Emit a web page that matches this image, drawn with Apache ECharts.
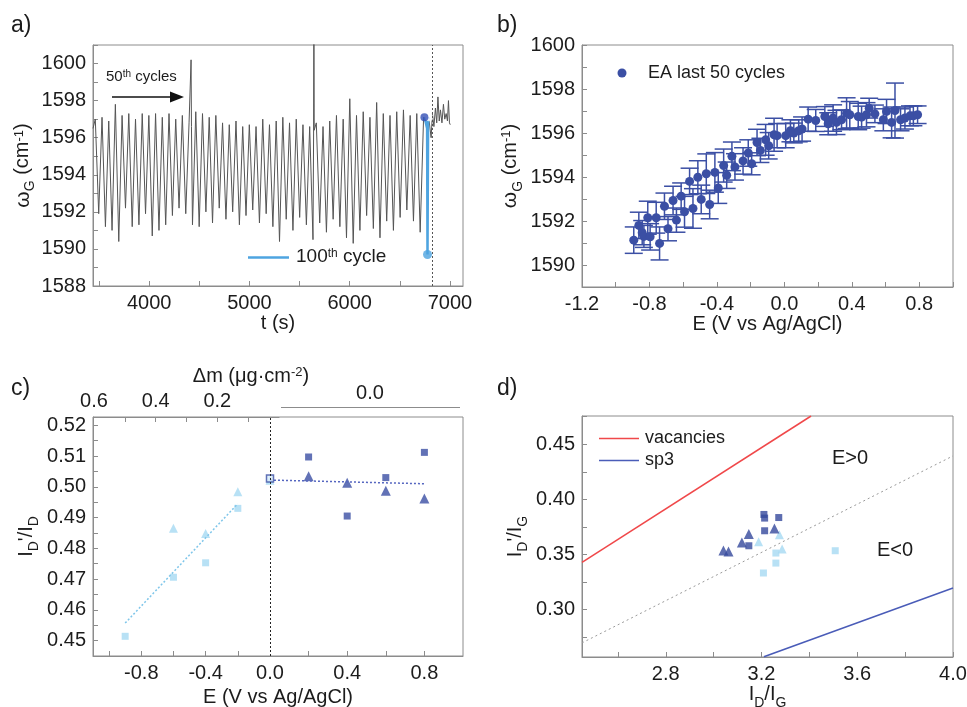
<!DOCTYPE html>
<html><head><meta charset="utf-8">
<script src="https://cdn.jsdelivr.net/npm/echarts@6/dist/echarts.min.js"></script>
<style>html,body{margin:0;padding:0;background:#fff}#c{width:967px;height:707px}</style>
</head><body><div id="c"></div>
<script>
// ---------- Panel a: omega_G vs time ----------
const aPeakT = [3463,3530,3597,3663,3730,3797,3864,3931,3997,4064,4131,4198,4265,4331,4398,4465,4532,4599,4665,4732,4799,4866,4933,4999,5066,5133,5200,5267,5333,5400,5467,5534,5601,5667,5734,5801,5868,5935,6001,6068,6135,6202,6269,6335,6402,6469,6536,6603,6669,6737];
const aPeakW = [1597.0,1597.1,1596.9,1597.8,1597.2,1597.3,1597.0,1597.3,1597.2,1597.3,1597.1,1597.3,1597.0,1597.2,1596.8,1597.4,1597.3,1597.1,1597.2,1596.8,1596.7,1596.9,1596.6,1596.7,1596.6,1597.0,1596.7,1596.9,1597.1,1596.8,1597.0,1596.7,1596.6,1596.8,1596.6,1596.9,1597.2,1597.0,1598.1,1597.2,1597.4,1597.1,1597.9,1597.3,1597.2,1597.4,1597.5,1597.2,1597.3,1597.1];
const aTroughT = [3497,3564,3630,3697,3764,3831,3898,3964,4031,4098,4165,4232,4298,4365,4432,4499,4566,4632,4699,4766,4833,4900,4966,5033,5100,5167,5234,5300,5367,5434,5501,5568,5634,5701,5768,5835,5902,5968,6035,6102,6169,6236,6302,6369,6436,6503,6570,6636,6703];
const aTroughW = [1591.9,1591.2,1591.0,1590.4,1592.2,1591.2,1591.3,1591.9,1590.7,1591.0,1591.3,1591.8,1592.2,1591.9,1591.3,1591.2,1592.0,1591.4,1592.2,1591.6,1592.0,1591.3,1591.8,1592.1,1591.4,1591.9,1591.2,1590.4,1591.6,1591.0,1591.7,1591.3,1590.5,1591.4,1590.9,1591.6,1591.2,1590.6,1590.3,1591.0,1591.8,1591.1,1590.6,1591.5,1591.0,1591.7,1592.1,1591.5,1590.9];
const aExtra = [[3440,1596.5],[4413,1596.7],[4418,1600.2],[4422,1596.6],[5640,1596.2],[5643,1603.5],[5646,1596.4],[6760,1596.9],[6790,1597.0],[6800,1596.9],[6812,1596.0],[6825,1597.3],[6840,1596.6],[6855,1597.6],[6868,1596.8],[6880,1598.2],[6893,1596.9],[6905,1597.5],[6920,1596.8],[6935,1597.8],[6948,1597.0],[6962,1597.3],[6975,1596.9],[6985,1598.0],[6995,1596.8],[7003,1596.7]];
const a100 = [[6747,1597.1],[6772,1596.5],[6776,1589.7],[6782,1596.9],[6790,1597.1]];
const a100Start = [[6745,1597.1]];
const a100Low = [[6776,1589.7]];
const a100End = [[6791,1597.1]];
const aDashT = 6820;
const aXTicks = [3500,4000,4500,5000,5500,6000,6500,7000];
const aXLabels = [4000,5000,6000,7000];

// ---------- Panel b: EA last 50 cycles ----------
const bE = [-0.893,-0.863,-0.843,-0.833,-0.81,-0.796,-0.76,-0.74,-0.711,-0.69,-0.66,-0.64,-0.612,-0.592,-0.562,-0.542,-0.513,-0.493,-0.463,-0.443,-0.412,-0.392,-0.36,-0.342,-0.311,-0.293,-0.245,-0.214,-0.194,-0.162,-0.142,-0.111,-0.093,-0.061,-0.043,0.008,0.036,0.056,0.085,0.105,0.141,0.186,0.24,0.26,0.289,0.309,0.339,0.369,0.388,0.438,0.458,0.487,0.503,0.537,0.587,0.606,0.636,0.656,0.689,0.715,0.745,0.765,0.79];
const bW = [1591.13,1591.8,1591.47,1591.3,1592.15,1591.28,1592.15,1590.98,1592.67,1591.65,1592.93,1592.04,1593.13,1592.42,1593.8,1592.57,1593.99,1592.98,1594.15,1592.75,1594.21,1593.5,1594.52,1594.08,1594.94,1594.46,1594.73,1595.09,1594.6,1595.57,1595.21,1595.69,1595.42,1595.92,1595.88,1595.88,1596.1,1596.0,1596.1,1596.18,1596.63,1596.57,1596.75,1596.42,1596.68,1596.48,1596.6,1596.9,1596.83,1596.75,1596.72,1596.83,1597.13,1596.87,1596.6,1596.98,1596.48,1597.02,1596.6,1596.68,1596.78,1596.78,1596.83];
const bErr = [0.6,0.6,0.55,0.5,0.75,0.6,0.7,0.75,0.6,0.55,0.65,0.55,0.6,0.7,0.6,0.9,0.75,0.65,0.9,0.65,0.9,0.7,0.75,0.6,0.65,0.6,0.6,0.6,0.5,0.6,0.55,0.7,0.6,0.75,0.55,0.55,0.5,0.45,0.5,0.55,0.55,0.5,0.45,0.5,0.6,0.55,0.45,0.7,0.6,0.6,0.5,0.55,0.45,0.4,0.5,0.55,0.7,1.25,0.5,0.5,0.45,0.45,0.4];

// ---------- Panel c: ID'/ID vs E ----------
const cENeg = [-0.9,-0.6,-0.4,-0.2];
const cLightSq = [0.4514,0.4706,0.4753,0.4930];
const cETriNeg = [-0.6,-0.4,-0.2,0.0];
const cLightTri = [0.4865,0.4848,0.4984,0.5021];
const cEPos = [0.0,0.2,0.4,0.6,0.8];
const cDarkSq = [0.5027,0.5097,0.4905,0.5030,0.5112];
const cETriPos = [0.2,0.4,0.6,0.8];
const cDarkTri = [0.5034,0.5013,0.4987,0.4962];
const cFitNeg = [[-0.9,0.4557],[-0.2,0.4945]];
const cFitPos = [[0.0,0.5022],[0.8,0.5010]];
const cYTicks = [0.45,0.455,0.46,0.465,0.47,0.475,0.48,0.485,0.49,0.495,0.5,0.505,0.51,0.515,0.52];
const cYLabels = [0.45,0.46,0.47,0.48,0.49,0.5,0.51,0.52];
const cXTicksNeg = [-1.0,-0.8,-0.6,-0.4,-0.2];
const cXLabelsNeg = [-0.8,-0.4,0.0];
const cXTicksPos = [0.2,0.4,0.6,0.8];
const cXLabelsPos = [0.4,0.8];
const cMTicks = [0.1,0.2,0.3,0.4,0.5];
const cMLabels = [0.2,0.4,0.6];

// ---------- Panel d: ID'/IG vs ID/IG ----------
const dVac = [[2.45,0.3428],[3.407,0.4756]];
const dSp3 = [[3.21,0.2572],[4.0,0.3196]];
const dRef = [[2.45,0.2698],[4.0,0.4394]];
const dDarkSq = [[3.21,0.3863],[3.213,0.3830],[3.272,0.3835],[3.213,0.3715],[3.147,0.3579]];
const dDarkTri = [[3.041,0.3537],[3.062,0.3528],[3.118,0.3609],[3.147,0.3685],[3.254,0.3736]];
const dLightSq = [[3.508,0.3534],[3.26,0.3513],[3.26,0.3422],[3.208,0.3332]];
const dLightTri = [[3.188,0.3615],[3.275,0.368],[3.286,0.3549]];
const dXTicks = [2.6,2.8,3.0,3.2,3.4,3.6,3.8,4.0];
const dXLabels = [2.8,3.2,3.6,4.0];
const dYTicks = [0.275,0.3,0.325,0.35,0.375,0.4,0.425,0.45,0.475];
const dYLabels = [0.3,0.35,0.4,0.45];

// ---------- styling ----------
const FONT = 'Liberation Sans, Arial, Helvetica, sans-serif';
const AX = '#8c8c8c';
const TXT = '#1c1c1c';
const DARK = '#3b4fa4';
const LIGHT = '#a6d9f2';
const LINE100 = '#4ea4e0';
const RICH = {
  w:{fontSize:20,fontFamily:FONT,color:TXT,verticalAlign:'top',lineHeight:20},
  o:{fontSize:21,fontFamily:FONT,color:TXT,verticalAlign:'top',lineHeight:21},
  s:{fontSize:14,fontFamily:FONT,color:TXT,verticalAlign:'bottom',padding:[11,0,0,0]},
  p:{fontSize:13,fontFamily:FONT,color:TXT,verticalAlign:'top'}
};

function mkAxis(o){
  const a = {
    type:'value', gridIndex:o.g, min:o.min, max:o.max, show:o.show!==false,
    position:o.pos, inverse:!!o.inverse,
    axisLine:{show:true, onZero:false, lineStyle:{color:AX,width:1}},
    axisTick:{show:o.tick!==false, inside:true, length:5, lineStyle:{color:AX,width:1}},
    axisLabel:{show:o.label!==false, color:TXT, fontSize:20, fontFamily:FONT, margin:o.margin||7, formatter:o.fmt},
    splitLine:{show:false},
    name:o.name||'', nameLocation:'middle', nameGap:o.gap||30,
    nameTextStyle:{color:TXT, fontSize:20, fontFamily:FONT, rich:RICH}
  };
  if (o.rot!=null) a.nameRotate=o.rot;
  if (o.interval!=null) a.interval=o.interval;
  if (o.ticks) a.axisTick.customValues=o.ticks;
  if (o.labels) a.axisLabel.customValues=o.labels;
  return a;
}
const frame = {show:true, borderColor:AX, borderWidth:1, backgroundColor:'transparent', containLabel:false, outerBoundsMode:'none'};
const plain = {show:false, containLabel:false, outerBoundsMode:'none'};

const grids = [
  Object.assign({left:93, top:45, width:370, height:241}, frame),      // 0 a
  Object.assign({left:582, top:45, width:371, height:242}, frame),     // 1 b
  Object.assign({left:93, top:417, width:177, height:239}, plain),     // 2 c left
  Object.assign({left:270, top:417, width:193, height:239}, plain),    // 3 c right
  Object.assign({left:94, top:417, width:185, height:239}, plain),     // 4 c top (dm)
  Object.assign({left:93, top:417, width:370, height:239}, frame),     // 5 c frame
  Object.assign({left:582, top:416, width:371, height:241}, frame)     // 6 d
];

const f1 = v => Number(v).toFixed(1);
const f2 = v => Number(v).toFixed(2);
const evenLab = v => (Math.round(v) % 2 === 0 ? String(Math.round(v)) : '');

const xAxes = [
  mkAxis({g:0, min:3440, max:7130, ticks:aXTicks, labels:aXLabels, fmt:v=>String(v), name:'t (s)', gap:25}),
  mkAxis({g:1, min:-1.2, max:1.0, interval:0.2, fmt:v=>(Math.round(v*10)%4===0?f1(v):''), name:'E (V vs Ag/AgCl)', gap:26}),
  mkAxis({g:2, min:-1.1, max:0, ticks:cXTicksNeg, labels:cXLabelsNeg, fmt:f1}),
  mkAxis({g:3, min:0, max:1.0, ticks:cXTicksPos, labels:cXLabelsPos, fmt:f1}),
  mkAxis({g:4, min:0, max:0.6, inverse:true, pos:'top', ticks:cMTicks, labels:cMLabels, fmt:f1, margin:6}),
  mkAxis({g:5, min:0, max:1, show:false}),
  mkAxis({g:6, min:2.45, max:4.0, ticks:dXTicks, labels:dXLabels, fmt:f1, name:'{w|I}{s|D}{w|/I}{s|G}', gap:22})
];
const yAxes = [
  mkAxis({g:0, min:1588, max:1601, interval:1, fmt:evenLab, name:'{o|ω}{s|G}{w| (cm}{p|-1}{w|)}', rot:90, gap:55}),
  mkAxis({g:1, min:1589, max:1600, interval:1, fmt:evenLab, name:'{o|ω}{s|G}{w| (cm}{p|-1}{w|)}', rot:90, gap:57}),
  mkAxis({g:2, min:0.445, max:0.5227, ticks:cYTicks, labels:cYLabels, fmt:f2, name:"{w|I}{s|D}{w|'/I}{s|D}", rot:90, gap:52}),
  mkAxis({g:3, min:0.445, max:0.5227, show:false}),
  mkAxis({g:4, min:0, max:1, show:false}),
  mkAxis({g:5, min:0, max:1, show:false}),
  mkAxis({g:6, min:0.257, max:0.4756, ticks:dYTicks, labels:dYLabels, fmt:f2, name:"{w|I}{s|D}{w|'/I}{s|G}", rot:90, gap:52})
];

// build trace a (merge of read peaks, troughs and extra points, ordered by time)
const aTrace = [];
aPeakT.forEach((t,i)=>aTrace.push([t,aPeakW[i]]));
aTroughT.forEach((t,i)=>aTrace.push([t,aTroughW[i]]));
aExtra.forEach(p=>aTrace.push(p));
aTrace.sort((p,q)=>p[0]-q[0]);

const bData = bE.map((e,i)=>[e,bW[i],bErr[i]]);

function errRender(params, api){
  const x=api.value(0), y=api.value(1), e=api.value(2);
  const t=api.coord([x,y+e]), b=api.coord([x,y-e]);
  const hw=9, st={stroke:DARK, lineWidth:1.5};
  return {type:'group', children:[
    {type:'line', shape:{x1:t[0],y1:t[1],x2:b[0],y2:b[1]}, style:st},
    {type:'line', shape:{x1:t[0]-hw,y1:t[1],x2:t[0]+hw,y2:t[1]}, style:st},
    {type:'line', shape:{x1:b[0]-hw,y1:b[1],x2:b[0]+hw,y2:b[1]}, style:st}
  ]};
}

const series = [
  {type:'line', xAxisIndex:0, yAxisIndex:0, data:aTrace, showSymbol:false, symbol:'none', clip:true,
   lineStyle:{color:'#555', width:1}, z:2,
   markLine:{silent:true, symbol:['none','none'], label:{show:false}, lineStyle:{color:'#555', type:[2,2], width:1}, data:[{xAxis:aDashT}]}},
  {type:'line', xAxisIndex:0, yAxisIndex:0, data:a100, showSymbol:false, symbol:'none', lineStyle:{color:LINE100, width:2.5}, z:3},
  {type:'scatter', xAxisIndex:0, yAxisIndex:0, data:a100End, symbol:'emptyCircle', symbolSize:6, itemStyle:{color:'#fff', borderColor:'#8cc4ec', borderWidth:1.5}, z:4},
  {type:'scatter', xAxisIndex:0, yAxisIndex:0, data:a100Low, symbolSize:9, itemStyle:{color:LINE100}, z:4},
  {type:'scatter', xAxisIndex:0, yAxisIndex:0, data:a100Start, symbolSize:8, itemStyle:{color:'#3550b5'}, z:5},
  {type:'custom', xAxisIndex:1, yAxisIndex:1, data:bData, renderItem:errRender, encode:{x:0,y:1}, z:2},
  {type:'scatter', xAxisIndex:1, yAxisIndex:1, data:bData.map(d=>[d[0],d[1]]), symbolSize:9, itemStyle:{color:DARK, opacity:1}, z:3},
  {type:'line', xAxisIndex:2, yAxisIndex:2, data:cFitNeg, showSymbol:false, symbol:'none', lineStyle:{color:'#7fc6ea', width:1.5, type:[2,2]}},
  {type:'scatter', xAxisIndex:2, yAxisIndex:2, data:cENeg.map((e,i)=>[e,cLightSq[i]]), symbol:'rect', symbolSize:7, itemStyle:{color:LIGHT}, clip:false},
  {type:'scatter', xAxisIndex:2, yAxisIndex:2, data:cETriNeg.map((e,i)=>[e,cLightTri[i]]), symbol:'triangle', symbolSize:9, itemStyle:{color:LIGHT}, clip:false},
  {type:'line', xAxisIndex:3, yAxisIndex:3, data:cFitPos, showSymbol:false, symbol:'none', lineStyle:{color:'#5566c0', width:1.5, type:[2,2]}},
  {type:'scatter', xAxisIndex:3, yAxisIndex:3, clip:false,
   data:cEPos.map((e,i)=> i===0 ? {value:[e,cDarkSq[i]], itemStyle:{color:'#dbeefa', borderColor:DARK, borderWidth:1.5}} : [e,cDarkSq[i]]),
   symbol:'rect', symbolSize:7, itemStyle:{color:DARK}, z:3,
   markLine:{silent:true, symbol:['none','none'], label:{show:false}, lineStyle:{color:'#222', type:[2,2], width:1}, data:[{xAxis:0}]}},
  {type:'scatter', xAxisIndex:3, yAxisIndex:3, data:cETriPos.map((e,i)=>[e,cDarkTri[i]]), symbol:'triangle', symbolSize:10, itemStyle:{color:DARK}},
  {type:'line', xAxisIndex:6, yAxisIndex:6, data:dVac, showSymbol:false, symbol:'none', lineStyle:{color:'#f0484a', width:1.5}},
  {type:'line', xAxisIndex:6, yAxisIndex:6, data:dSp3, showSymbol:false, symbol:'none', lineStyle:{color:'#4a5cb8', width:1.5}},
  {type:'line', xAxisIndex:6, yAxisIndex:6, data:dRef, showSymbol:false, symbol:'none', lineStyle:{color:'#9a9a9a', width:1, type:[2,3]}},
  {type:'scatter', xAxisIndex:6, yAxisIndex:6, data:dLightSq, symbol:'rect', symbolSize:7, itemStyle:{color:LIGHT}},
  {type:'scatter', xAxisIndex:6, yAxisIndex:6, data:dLightTri, symbol:'triangle', symbolSize:9, itemStyle:{color:LIGHT}},
  {type:'scatter', xAxisIndex:6, yAxisIndex:6, data:dDarkSq, symbol:'rect', symbolSize:7, itemStyle:{color:'#34489c'}},
  {type:'scatter', xAxisIndex:6, yAxisIndex:6, data:dDarkTri, symbol:'triangle', symbolSize:10, itemStyle:{color:'#34489c'}}
];

const T = (x,y,text,size,align,extra) => ({type:'text', x:x, y:y, silent:true,
  style:{text:text, fontSize:size, fontFamily:FONT, fill:TXT, align:align||'left', verticalAlign:'middle', rich:extra}});
const richSmall = (n,p) => ({n:{fontSize:n,fontFamily:FONT,fill:TXT,color:TXT}, p:{fontSize:p,fontFamily:FONT,fill:TXT,color:TXT,verticalAlign:'top'}});

const graphic = [
  T(11,26,'a)',23), T(497,26,'b)',23), T(11,389,'c)',23), T(497,389,'d)',23),
  T(106,77,'{n|50}{p|th}{n| cycles}',15,'left',richSmall(15,10)),
  {type:'line', silent:true, shape:{x1:112,y1:97,x2:172,y2:97}, style:{stroke:'#111', lineWidth:1.5}},
  {type:'polygon', silent:true, shape:{points:[[170,91.5],[184,97],[170,102.5]]}, style:{fill:'#111'}},
  {type:'line', silent:true, shape:{x1:248,y1:257.5,x2:289,y2:257.5}, style:{stroke:LINE100, lineWidth:2.5}},
  T(296,257,'{n|100}{p|th}{n| cycle}',19,'left',richSmall(19,12)),
  {type:'circle', silent:true, shape:{cx:622,cy:73,r:4.5}, style:{fill:DARK}},
  T(648,73,'EA last 50 cycles',18),
  T(251,376,'{n|Δm (μg·cm}{p|-2}{n|)}',20,'center',richSmall(20,13)),
  T(370,393,'0.0',20,'center'),
  {type:'line', silent:true, shape:{x1:281,y1:407.5,x2:460,y2:407.5}, style:{stroke:AX, lineWidth:1}},
  T(278,697,'E (V vs Ag/AgCl)',20,'center'),
  {type:'line', silent:true, shape:{x1:599,y1:438.5,x2:639,y2:438.5}, style:{stroke:'#f0484a', lineWidth:1.5}},
  T(645,438,'vacancies',18),
  {type:'line', silent:true, shape:{x1:599,y1:460.5,x2:639,y2:460.5}, style:{stroke:'#4a5cb8', lineWidth:1.5}},
  T(645,460,'sp3',18),
  T(832,458,'E>0',20), T(877,550,'E<0',20)
];

const chart = echarts.init(document.getElementById('c'), null, {renderer:'canvas'});
chart.setOption({
  animation:false, backgroundColor:'#fff',
  textStyle:{fontFamily:FONT},
  grid:grids, xAxis:xAxes, yAxis:yAxes, series:series, graphic:graphic
});
</script></body></html>
